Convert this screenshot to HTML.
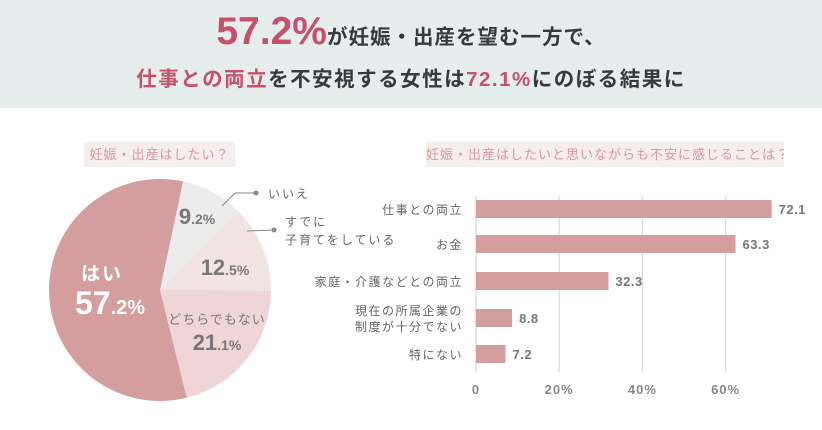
<!DOCTYPE html>
<html><head><meta charset="utf-8"><style>
body{margin:0;width:822px;height:430px;background:#fff;overflow:hidden;font-family:"Liberation Sans","Noto Sans CJK JP",sans-serif;position:relative}
.hdr{position:absolute;left:0;top:0;width:822px;height:108px;background:#e6eded}
.t1{position:absolute;top:10px;left:0;width:822px;text-align:center;color:#333a40;font-weight:bold;font-size:20.5px;letter-spacing:1px;white-space:nowrap}
.t1 .big{color:#c8506a;font-size:39px;letter-spacing:0}
.t2{position:absolute;top:62px;left:0;width:822px;text-align:center;color:#333a40;font-weight:bold;font-size:20.5px;letter-spacing:1.5px;white-space:nowrap}
.pk{color:#c8506a}
.cap{position:absolute;background:#f6eded;color:#d49aa0;font-size:13px;letter-spacing:1px;height:25px;line-height:25px;text-align:center;white-space:nowrap;overflow:hidden}
</style></head><body>
<div class="hdr">
<div class="t1"><span class="big">57.2%</span>が妊娠・出産を望む一方で、</div>
<div class="t2"><span class="pk">仕事との両立</span>を不安視する女性は<span class="pk">72.1%</span>にのぼる結果に</div>
</div>
<div class="cap" style="left:84px;top:142px;width:151px">妊娠・出産はしたい？</div>
<div class="cap" style="left:426px;top:142px;width:358px">妊娠・出産はしたいと思いながらも不安に感じることは？</div>
<svg id="pie" width="822" height="430" style="position:absolute;left:0;top:0"></svg>
<svg id="bar" width="822" height="430" style="position:absolute;left:0;top:0"></svg>
<script>
const pieLabels=["いいえ","すでに子育てをしている","どちらでもない","はい"];
const pieValues=[9.2,12.5,21.1,57.2];
const pieColors=["#ececec","#f3e4e4","#efd5d5","#d59e9e"];
const barCats=["仕事との両立","お金","家庭・介護などとの両立","現在の所属企業の|制度が十分でない","特にない"];
const barValues=[72.1,63.3,32.3,8.8,7.2];
const xTicks=[0,20,40,60];
const NS="http://www.w3.org/2000/svg";
function mk(p,t,a,txt){const e=document.createElementNS(NS,t);for(const k in a)e.setAttribute(k,a[k]);if(txt!=null)e.textContent=txt;p.appendChild(e);return e;}
// pie
const pie=document.getElementById('pie');
const cx=160,cy=290,r=111;
let ang=12;const tot=pieValues.reduce((a,b)=>a+b,0);
function pt(a,rr){const t=(a-90)*Math.PI/180;return [cx+rr*Math.cos(t),cy+rr*Math.sin(t)];}
pieValues.forEach((v,i)=>{const a0=ang,a1=ang+v/tot*360;ang=a1;
const p0=pt(a0,r),p1=pt(a1,r);const large=(a1-a0)>180?1:0;
const s=mk(pie,'path',{d:`M${cx},${cy}L${p0[0]},${p0[1]}A${r},${r} 0 ${large} 1 ${p1[0]},${p1[1]}Z`,fill:pieColors[i]});

});
function pctLabel(x,y,v,big,small,col,name){const s=String(v).split('.');const t=mk(pie,'text',{x:x,y:y,'text-anchor':'middle',fill:col,'font-weight':'bold','font-size':big});


mk(t,'tspan',{},s[0]);mk(t,'tspan',{'font-size':small},'.'+s[1]+'%');}
pctLabel(197,224,pieValues[0],22,14,'#777','pie-value-no');
pctLabel(225,275,pieValues[1],22,14,'#777','pie-value-parenting');
pctLabel(217,350,pieValues[2],22,14,'#777','pie-value-undecided');
pctLabel(110,314,pieValues[3],32,20,'#fff','pie-value-yes');
const t1=mk(pie,'text',{x:102,y:280,'text-anchor':'middle',fill:'#fff','font-size':19,'font-weight':'bold','letter-spacing':2},'はい');

const t2=mk(pie,'text',{x:217,y:324,'text-anchor':'middle',fill:'#777','font-size':13,'letter-spacing':1},'どちらでもない');

mk(pie,'polyline',{points:'222,206 235,193 256,193',fill:'none',stroke:'#888','stroke-width':1});
mk(pie,'circle',{cx:256,cy:193,r:2.5,fill:'#888'});
mk(pie,'line',{x1:247,y1:231,x2:274,y2:230,stroke:'#888','stroke-width':1});
mk(pie,'circle',{cx:274,cy:230,r:2.5,fill:'#888'});
const l1=mk(pie,'text',{x:268,y:198,fill:'#666','font-size':12,'letter-spacing':2},'いいえ');

const l2=mk(pie,'text',{x:285,y:226,fill:'#666','font-size':12,'letter-spacing':2},'すでに');

mk(pie,'text',{x:285,y:244,fill:'#666','font-size':12,'letter-spacing':2},'子育てをしている');
// bar
const bar=document.getElementById('bar');
const x0=476,sc=4.1;const X=v=>x0+v*sc;
const rowY=[209,244,281,318,354];const bh=18;
xTicks.forEach(t=>{const g=mk(bar,'line',{x1:X(t)+t*0.06,y1:196,x2:X(t)+t*0.06,y2:372,stroke:'#dedede','stroke-width':1.5});

const tl=mk(bar,'text',{x:X(t)+t*0.06,y:394,'text-anchor':'middle',fill:'#888','font-size':13,'font-weight':'bold','letter-spacing':1},t===0?'0':t+'%');
});
barValues.forEach((v,i)=>{const y=rowY[i];
const b=mk(bar,'rect',{x:X(0),y:y-bh/2,width:v*sc,height:bh,fill:'#d59e9e'});

const vl=mk(bar,'text',{x:X(v)+7,y:y+5,fill:'#777','font-size':13,'font-weight':'bold','letter-spacing':0.5},String(v));

const parts=barCats[i].split('|');
parts.forEach((p,j)=>{const c=mk(bar,'text',{x:463,y:y+5+(j-(parts.length-1)/2)*16,'text-anchor':'end',fill:'#666','font-size':12,'letter-spacing':1.5},p);
});});
</script>
</body></html>
